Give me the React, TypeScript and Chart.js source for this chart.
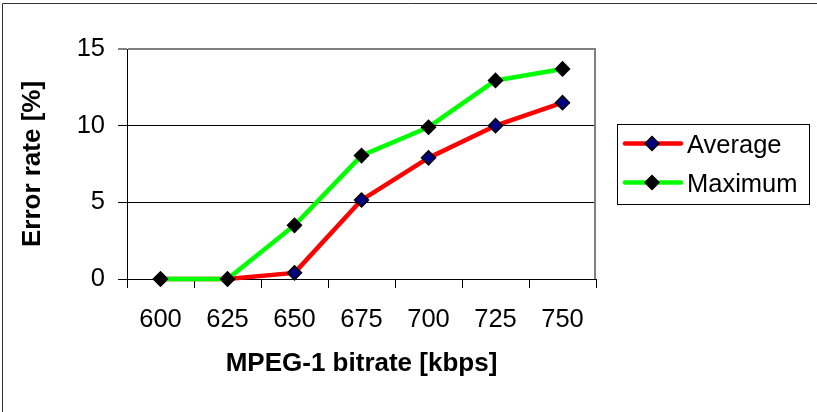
import { useEffect, useRef } from 'react';
import { Chart, registerables } from 'chart.js';

Chart.register(...registerables);

// MPEG-1 bitrate categories (kbps)
const bitrates = ['600', '625', '650', '675', '700', '725', '750'];
// Error rate per bitrate (%)
const averageErrors = [0, 0, 0.4, 5.15, 7.9, 10.0, 11.5];
const maximumErrors = [0, 0, 3.5, 8.05, 9.9, 12.95, 13.7];
const seriesNames = ['Average', 'Maximum'];
const yMin = 0;
const yMax = 15;
const yStep = 5;

const FONT = '"Liberation Sans", Arial, Helvetica, sans-serif';

// Thin outer frame plus the grey right edge of the plot area
const framePlugin = {
  id: 'frame',
  beforeDraw(chart: any) {
    const { ctx, width, height } = chart;
    ctx.save();
    ctx.strokeStyle = '#333333';
    ctx.lineWidth = 1;
    ctx.beginPath();
    ctx.moveTo(2.5, height);
    ctx.lineTo(2.5, 3.5);
    ctx.lineTo(width, 3.5);
    ctx.stroke();
    ctx.restore();
  },
  beforeDatasetsDraw(chart: any) {
    const { ctx, chartArea } = chart;
    ctx.save();
    ctx.strokeStyle = '#808080';
    ctx.lineWidth = 2;
    ctx.beginPath();
    ctx.moveTo(chartArea.right - 1, chartArea.top - 1);
    ctx.lineTo(chartArea.right - 1, chartArea.bottom);
    ctx.stroke();
    ctx.restore();
  },
};

function diamond(ctx: CanvasRenderingContext2D, x: number, y: number, r: number) {
  ctx.beginPath();
  ctx.moveTo(x, y - r);
  ctx.lineTo(x + r, y);
  ctx.lineTo(x, y + r);
  ctx.lineTo(x - r, y);
  ctx.closePath();
}

// Boxed legend to the right of the plot, line + marker per series
const sideLegendPlugin = {
  id: 'sideLegend',
  afterDraw(chart: any) {
    const { ctx, chartArea } = chart;
    const w = 192;
    const h = 80;
    const x = Math.round(chartArea.right + 21);
    const y = Math.round((chartArea.top + chartArea.bottom) / 2 - h / 2);
    ctx.save();
    ctx.fillStyle = '#ffffff';
    ctx.fillRect(x, y, w, h);
    ctx.strokeStyle = '#000000';
    ctx.lineWidth = 1;
    ctx.strokeRect(x + 0.5, y + 0.5, w, h);
    chart.data.datasets.forEach((ds: any, i: number) => {
      const rowY = y + 19.5 + i * 39;
      ctx.strokeStyle = ds.borderColor;
      ctx.lineWidth = ds.borderWidth;
      ctx.lineCap = 'round';
      ctx.beginPath();
      ctx.moveTo(x + 8, rowY);
      ctx.lineTo(x + 64, rowY);
      ctx.stroke();
      diamond(ctx, x + 35, rowY, ds.pointRadius);
      ctx.fillStyle = ds.pointBackgroundColor;
      ctx.fill();
      ctx.strokeStyle = ds.pointBorderColor;
      ctx.lineWidth = ds.pointBorderWidth;
      ctx.stroke();
      ctx.fillStyle = '#000000';
      ctx.font = `25.5px ${FONT}`;
      ctx.textAlign = 'left';
      ctx.textBaseline = 'alphabetic';
      ctx.fillText(ds.label, x + 70, rowY + 9.3);
    });
    ctx.restore();
  },
};

export default function App() {
  const canvasRef = useRef<HTMLCanvasElement | null>(null);

  useEffect(() => {
    const canvas = canvasRef.current;
    if (!canvas) return;
    const chart = new Chart(canvas, {
      type: 'line',
      data: {
        labels: bitrates,
        datasets: [
          {
            label: seriesNames[0],
            data: averageErrors,
            borderColor: '#ff0000',
            borderWidth: 4.5,
            borderJoinStyle: 'round',
            pointStyle: 'rectRot',
            pointRadius: 7,
            pointBackgroundColor: '#000080',
            pointBorderColor: '#000000',
            pointBorderWidth: 1.5,
            tension: 0,
            clip: false,
            order: 1,
          },
          {
            label: seriesNames[1],
            data: maximumErrors,
            borderColor: '#00ff00',
            borderWidth: 4.5,
            borderJoinStyle: 'round',
            pointStyle: 'rectRot',
            pointRadius: 7,
            pointBackgroundColor: '#000000',
            pointBorderColor: '#000000',
            pointBorderWidth: 1.5,
            tension: 0,
            clip: false,
            order: 0,
          },
        ],
      } as any,
      options: {
        responsive: false,
        animation: false,
        devicePixelRatio: 1,
        layout: { padding: { left: 0, top: 49, right: 221, bottom: 0 } },
        plugins: {
          legend: { display: false },
          tooltip: { enabled: false },
        },
        scales: {
          x: {
            type: 'category',
            offset: true,
            afterFit: (scale: any) => {
              scale.height = 133;
            },
            grid: {
              offset: true,
              drawOnChartArea: false,
              drawTicks: true,
              tickLength: 9,
              color: '#000000',
              tickColor: '#000000',
              lineWidth: 1,
            },
            border: { display: true, color: '#000000', width: 1 },
            ticks: {
              color: '#000000',
              padding: 17,
              maxRotation: 0,
              autoSkip: false,
              font: { family: FONT, size: 25.5 },
            },
            title: {
              display: true,
              text: 'MPEG-1 bitrate [kbps]',
              color: '#000000',
              font: { family: FONT, size: 26, weight: 'bold' },
              padding: { top: 0, bottom: 32.4 },
            },
          },
          y: {
            type: 'linear',
            min: yMin,
            max: yMax,
            afterFit: (scale: any) => {
              scale.width = 127;
            },
            grid: {
              drawTicks: true,
              tickLength: 9,
              color: (c: any) => (c.tick && c.tick.value === yMax ? '#808080' : '#000000'),
              lineWidth: (c: any) => (c.tick && c.tick.value === yMax ? 2 : 1),
              tickColor: '#000000',
              tickWidth: 1,
            },
            border: { display: true, color: '#000000', width: 1 },
            ticks: {
              stepSize: yStep,
              color: '#000000',
              padding: 13,
              font: { family: FONT, size: 25.5 },
            },
            title: {
              display: true,
              text: 'Error rate [%]',
              color: '#000000',
              font: { family: FONT, size: 26, weight: 'bold' },
              padding: { top: 17.4, bottom: 0 },
            },
          },
        },
      } as any,
      plugins: [framePlugin, sideLegendPlugin],
    });
    return () => chart.destroy();
  }, []);

  return (
    <div style={{ position: 'absolute', left: 0, top: 0, width: 817, height: 412, background: '#ffffff' }}>
      <canvas ref={canvasRef} width={817} height={412} />
    </div>
  );
}
